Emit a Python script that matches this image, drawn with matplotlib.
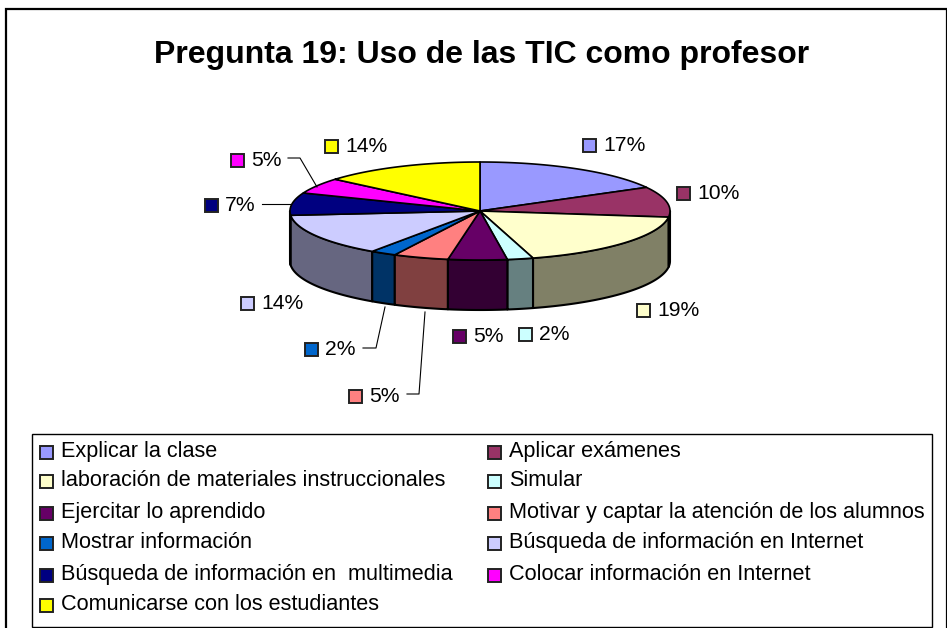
import numpy as np
import matplotlib
matplotlib.use('Agg')
import matplotlib.pyplot as plt
from matplotlib.patches import Rectangle
from matplotlib.colors import to_rgb

title = 'Pregunta 19: Uso de las TIC como profesor'
categories = ['Explicar la clase', 'Aplicar exámenes', 'laboración de materiales instruccionales',
              'Simular', 'Ejercitar lo aprendido', 'Motivar y captar la atención de los alumnos',
              'Mostrar información', 'Búsqueda de información en Internet',
              'Búsqueda de información en  multimedia', 'Colocar información en Internet',
              'Comunicarse con los estudiantes']
values = [17.0, 10.0, 18.5, 2.2, 5.0, 4.7, 2.2, 14.0, 7.4, 5.2, 13.8]
labels = ['17%', '10%', '19%', '2%', '5%', '5%', '2%', '14%', '7%', '5%', '14%']
colors = ['#9999FF', '#993366', '#FFFFCC', '#CCFFFF', '#660066', '#FF8080',
          '#0066CC', '#CCCCFF', '#000080', '#FF00FF', '#FFFF00']

plt.rcParams['font.family'] = ['Liberation Sans', 'DejaVu Sans']
fig = plt.figure(figsize=(9.47, 6.28), dpi=100)
ax = fig.add_axes([0, 0, 1, 1])
ax.set_xlim(0, 947)
ax.set_ylim(628, 0)
ax.axis('off')

# outer frame runs off the bottom and right of the image
ax.add_patch(Rectangle((5.5, 8.5), 941, 640, fc='white', ec='black', lw=1.6))
ax.text(482, 55, title, fontsize=23, fontweight='bold', ha='center', va='center')

cx, cy, rx, ry, depth = 480, 211, 190, 49, 50


def rim(a0, a1, n=60):
    t = np.radians(np.linspace(a0, a1, n))
    return cx + rx * np.sin(t), cy - ry * np.cos(t)


edges = np.concatenate([[0], np.cumsum(values)]) / sum(values) * 360

# side walls first, only the front half of the ellipse shows
order = sorted(range(len(values)), key=lambda k: abs(180 - (edges[k] + edges[k + 1]) / 2), reverse=True)
for i in order:
    a0, a1 = max(edges[i], 90), min(edges[i + 1], 270)
    if a1 <= a0:
        continue
    x, y = rim(a0, a1)
    px = np.concatenate([x, x[::-1]])
    py = np.concatenate([y, y[::-1] + depth])
    c = tuple(v * 0.5 for v in to_rgb(colors[i]))
    ax.fill(px, py, fc=c, ec='black', lw=1.5, joinstyle='round')

for i in range(len(values)):
    x, y = rim(edges[i], edges[i + 1])
    ax.fill(np.r_[cx, x], np.r_[cy, y], fc=colors[i], ec='black', lw=1.2, joinstyle='round')

# leader lines
ax.plot([407, 419, 425], [394, 394, 312], color='black', lw=0.8)
ax.plot([363, 376, 385], [348, 348, 307], color='black', lw=0.8)
ax.plot([262, 290], [204, 204], color='black', lw=0.8)
ax.plot([288, 300, 317], [158, 158, 187], color='black', lw=0.8)


def swatch(x, y, color, size=13):
    ax.add_patch(Rectangle((x, y - size / 2), size, size, fc=color, ec='#222222', lw=1.4))


# pie labels, square left edge and text centre
label_pos = [(583, 145), (677, 193), (637, 310), (519, 334), (453, 336), (349, 396),
             (305, 349), (241, 303), (205, 205), (231, 160), (325, 146)]
for lab, col, (lx, ly) in zip(labels, colors, label_pos):
    swatch(lx, ly, col)
    ax.text(lx + 20, ly + 6, lab, fontsize=15.2, ha='left', va='baseline')

# legend box, two columns filled row by row
ax.add_patch(Rectangle((32, 434), 900, 193, fc='white', ec='black', lw=1.0))
row_y = [451, 480, 512, 542, 574, 604]
col_x = [40, 488]
for i, (name, col) in enumerate(zip(categories, colors)):
    lx, ly = col_x[i % 2], row_y[i // 2]
    swatch(lx, ly + 1, col)
    ax.text(lx + 21, ly + 6, name, fontsize=15.6, ha='left', va='baseline')

fig.savefig('out.png', dpi=100)
